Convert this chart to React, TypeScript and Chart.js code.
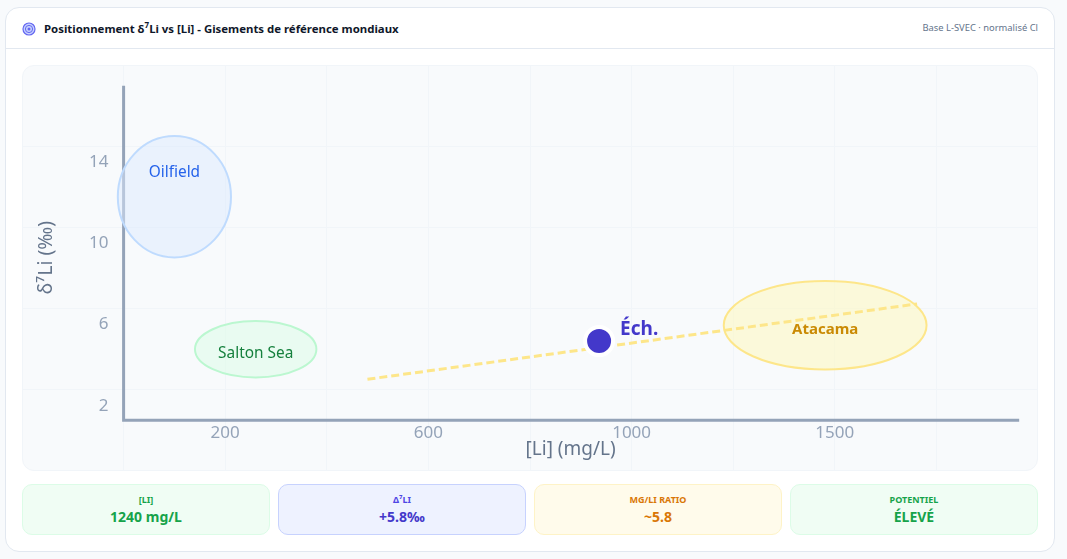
import { useEffect, useRef } from "react"
import { Chart, registerables, type ChartConfiguration, type Plugin } from "chart.js"

Chart.register(...registerables)

const FONT = '"Noto Sans", sans-serif'

// x ticks and labels as printed on the reference (last one really sits on the 1400 gridline)
const xGridValues = [0, 200, 400, 600, 800, 1000, 1200, 1400, 1600]
const xTickValues = [200, 600, 1000, 1400]
const xTickLabels = ["200", "600", "1000", "1500"]
const yTickValues = [2, 6, 10, 14]

const regionNames = ["Oilfield", "Salton Sea", "Atacama"]
const regionX = [100, 260, 1381]
const regionY = [11.51, 4.0, 5.18]
const regionSpreadX = [111.4, 119.5, 199.6]
const regionSpreadY = [2.99, 1.39, 2.18]
const regionLabelY = [12.71, 3.78, 4.98]

const regionFill = ["rgba(219,234,254,0.5)", "rgba(220,252,231,0.55)", "rgba(254,249,195,0.6)"]
const regionStroke = ["#bfdbfe", "#bbf7d0", "#fde68a"]
const regionText = ["#2563eb", "#15803d", "#ca8a04"]
const regionFont = ["400 15.4px", "400 15.4px", "700 15px"]

const trendX = [480, 1562]
const trendY = [2.52, 6.23]
const sampleX = [936]
const sampleY = [4.4]
const sampleLabel = "Éch."
const spineX = [0, 0, 1760]
const spineY = [16.9, 0.5, 0.5]

const xTitle = "[Li] (mg/L)"
const yTitle = "δ⁷Li (‰)"

const tiles = [
  { label: "[LI]", value: "1240 mg/L", bg: "#f0fdf4", border: "#dcfce7", labelColor: "#16a34a", valueColor: "#16a34a" },
  { label: "Δ⁷LI", value: "+5.8‰", bg: "#eef2ff", border: "#c7d2fe", labelColor: "#4f46e5", valueColor: "#4338ca" },
  { label: "MG/LI RATIO", value: "~5.8", bg: "#fffbeb", border: "#fef3c7", labelColor: "#d97706", valueColor: "#d97706" },
  { label: "POTENTIEL", value: "ÉLEVÉ", bg: "#f0fdf4", border: "#dcfce7", labelColor: "#16a34a", valueColor: "#16a34a" },
]

const toPoints = (xs: number[], ys: number[]) => xs.map((x, i) => ({ x, y: ys[i] }))

const SPINE_INDEX = 2

// positioned axes still reserve room for half a tick label, which would shrink the plot
const noAxisPadding = (axis: any) => {
  axis.paddingLeft = 0
  axis.paddingRight = 0
  axis.paddingTop = 0
  axis.paddingBottom = 0
}

const overlayPlugin: Plugin<"scatter"> = {
  id: "overlay",
  // ellipses sit above the axis spine but under the trend line
  afterDatasetDraw(chart, args) {
    if (args.index !== SPINE_INDEX) return
    const { ctx, scales } = chart
    const { x, y } = scales
    regionNames.forEach((_, i) => {
      const cx = x.getPixelForValue(regionX[i])
      const cy = y.getPixelForValue(regionY[i])
      const rx = Math.abs(x.getPixelForValue(regionX[i] + regionSpreadX[i]) - cx)
      const ry = Math.abs(y.getPixelForValue(regionY[i] + regionSpreadY[i]) - cy)
      ctx.save()
      ctx.beginPath()
      ctx.ellipse(cx, cy, rx, ry, 0, 0, Math.PI * 2)
      ctx.fillStyle = regionFill[i]
      ctx.fill()
      ctx.lineWidth = 2
      ctx.strokeStyle = regionStroke[i]
      ctx.stroke()
      ctx.restore()
    })
  },
  afterDatasetsDraw(chart) {
    const { ctx, scales } = chart
    const { x, y } = scales
    ctx.save()
    ctx.textAlign = "center"
    ctx.textBaseline = "middle"
    regionNames.forEach((name, i) => {
      ctx.font = `${regionFont[i]} ${FONT}`
      ctx.fillStyle = regionText[i]
      ctx.fillText(name, x.getPixelForValue(regionX[i]), y.getPixelForValue(regionLabelY[i]))
    })

    ctx.textAlign = "left"
    ctx.font = `700 19px ${FONT}`
    ctx.fillStyle = "#4338ca"
    ctx.fillText(sampleLabel, x.getPixelForValue(sampleX[0]) + 21, y.getPixelForValue(sampleY[0]) - 11)

    ctx.textAlign = "center"
    ctx.font = `400 19px ${FONT}`
    ctx.fillStyle = "#64748b"
    ctx.fillText(xTitle, x.getPixelForValue(880), 385)
    ctx.translate(24, 192.5)
    ctx.rotate(-Math.PI / 2)
    ctx.font = `400 19.5px ${FONT}`
    ctx.fillText(yTitle, 0, 0)
    ctx.restore()
  },
}

export default function App() {
  const canvasRef = useRef<HTMLCanvasElement>(null)

  useEffect(() => {
    if (!canvasRef.current) return

    const config: ChartConfiguration<"scatter"> = {
      type: "scatter",
      data: {
        datasets: [
          {
            label: "Échantillon",
            data: toPoints(sampleX, sampleY),
            pointRadius: 14,
            pointBackgroundColor: "#4338ca",
            pointBorderColor: "#ffffff",
            pointBorderWidth: 4,
          },
          {
            label: "Tendance",
            data: toPoints(trendX, trendY),
            showLine: true,
            borderColor: "#fde68a",
            borderWidth: 3,
            borderDash: [8, 4],
            pointRadius: 0,
          },
          {
            label: "Axes",
            data: toPoints(spineX, spineY),
            showLine: true,
            borderColor: "#94a3b8",
            borderWidth: 3,
            borderCapStyle: "square",
            borderJoinStyle: "miter",
            pointRadius: 0,
          },
        ],
      },
      options: {
        animation: false,
        responsive: true,
        maintainAspectRatio: false,
        layout: { padding: 0, autoPadding: false },
        plugins: {
          legend: { display: false },
          tooltip: { enabled: false },
        },
        scales: {
          x: {
            type: "linear",
            min: -200,
            max: 1800,
            position: { y: 0.5 } as any,
            afterBuildTicks: (axis) => {
              axis.ticks = xGridValues.map((value) => ({ value }))
            },
            afterFit: noAxisPadding,
            grid: { color: "#f1f5f9", lineWidth: 1, drawTicks: false },
            border: { display: false },
            ticks: {
              autoSkip: false,
              maxRotation: 0,
              padding: 3,
              color: "#94a3b8",
              font: { family: FONT, size: 17 },
              callback: (value) => {
                const idx = xTickValues.indexOf(Number(value))
                return idx >= 0 ? xTickLabels[idx] : ""
              },
            },
          },
          y: {
            type: "linear",
            min: -2,
            max: 18,
            // labels are anchored on this value, padding is ignored for a positioned y axis
            position: { x: -30 } as any,
            afterBuildTicks: (axis) => {
              axis.ticks = yTickValues.map((value) => ({ value }))
            },
            afterFit: noAxisPadding,
            grid: { color: "#f1f5f9", lineWidth: 1, drawTicks: false },
            border: { display: false },
            ticks: {
              autoSkip: false,
              labelOffset: 16,
              color: "#94a3b8",
              font: { family: FONT, size: 17 },
              callback: (value) => String(value),
            },
          },
        },
      },
      plugins: [overlayPlugin],
    }

    const chart = new Chart(canvasRef.current, config)
    return () => chart.destroy()
  }, [])

  return (
    <div style={{ position: "fixed", inset: 0, background: "#f8fafc", fontFamily: FONT }}>
      <div
        style={{
          position: "absolute",
          left: 5,
          top: 7,
          width: 1050,
          height: 545,
          boxSizing: "border-box",
          background: "#fff",
          border: "1px solid #e2e8f0",
          borderRadius: 14,
        }}
      >
        <div
          style={{
            position: "absolute",
            left: 0,
            right: 0,
            top: 0,
            height: 40,
            borderBottom: "1px solid #e2e8f0",
          }}
        >
          <svg width="14" height="14" viewBox="0 0 14 14" style={{ position: "absolute", left: 16, top: 14 }}>
            <circle cx="7" cy="7" r="6" fill="#c7d2fe" stroke="#6366f1" strokeWidth="1.2" />
            <circle cx="7" cy="7" r="3.6" fill="none" stroke="#6366f1" strokeWidth="1" />
            <circle cx="7" cy="7" r="1.5" fill="#6366f1" />
          </svg>
          <div
            style={{
              position: "absolute",
              left: 38,
              top: 12,
              fontSize: 11.4,
              lineHeight: "18px",
              fontWeight: 700,
              color: "#0f172a",
              whiteSpace: "nowrap",
            }}
          >
            Positionnement δ<sup style={{ fontSize: 8, lineHeight: 0 }}>7</sup>Li vs [Li] - Gisements de référence mondiaux
          </div>
          <div
            style={{
              position: "absolute",
              right: 16,
              top: 13,
              fontSize: 9.4,
              lineHeight: "14px",
              color: "#64748b",
              whiteSpace: "nowrap",
            }}
          >
            Base L-SVEC · normalisé Cl
          </div>
        </div>

        <div
          style={{
            position: "absolute",
            left: 16,
            top: 57,
            width: 1016,
            height: 406,
            boxSizing: "border-box",
            background: "#f8fafc",
            border: "1px solid #f1f5f9",
            borderRadius: 12,
            overflow: "hidden",
          }}
        >
          <div style={{ position: "absolute", left: -1, top: -1, width: 1016, height: 406 }}>
            <canvas ref={canvasRef} />
          </div>
        </div>

        {tiles.map((tile, i) => (
          <div
            key={tile.label}
            style={{
              position: "absolute",
              left: 16 + i * 256,
              top: 476,
              width: 248,
              height: 51,
              boxSizing: "border-box",
              background: tile.bg,
              border: `1px solid ${tile.border}`,
              borderRadius: 10,
              textAlign: "center",
            }}
          >
            <div style={{ marginTop: 8, fontSize: 9, lineHeight: "13px", fontWeight: 700, color: tile.labelColor }}>
              {tile.label}
            </div>
            <div style={{ marginTop: 1, fontSize: 14, lineHeight: "19px", fontWeight: 700, color: tile.valueColor }}>
              {tile.value}
            </div>
          </div>
        ))}
      </div>
    </div>
  )
}
